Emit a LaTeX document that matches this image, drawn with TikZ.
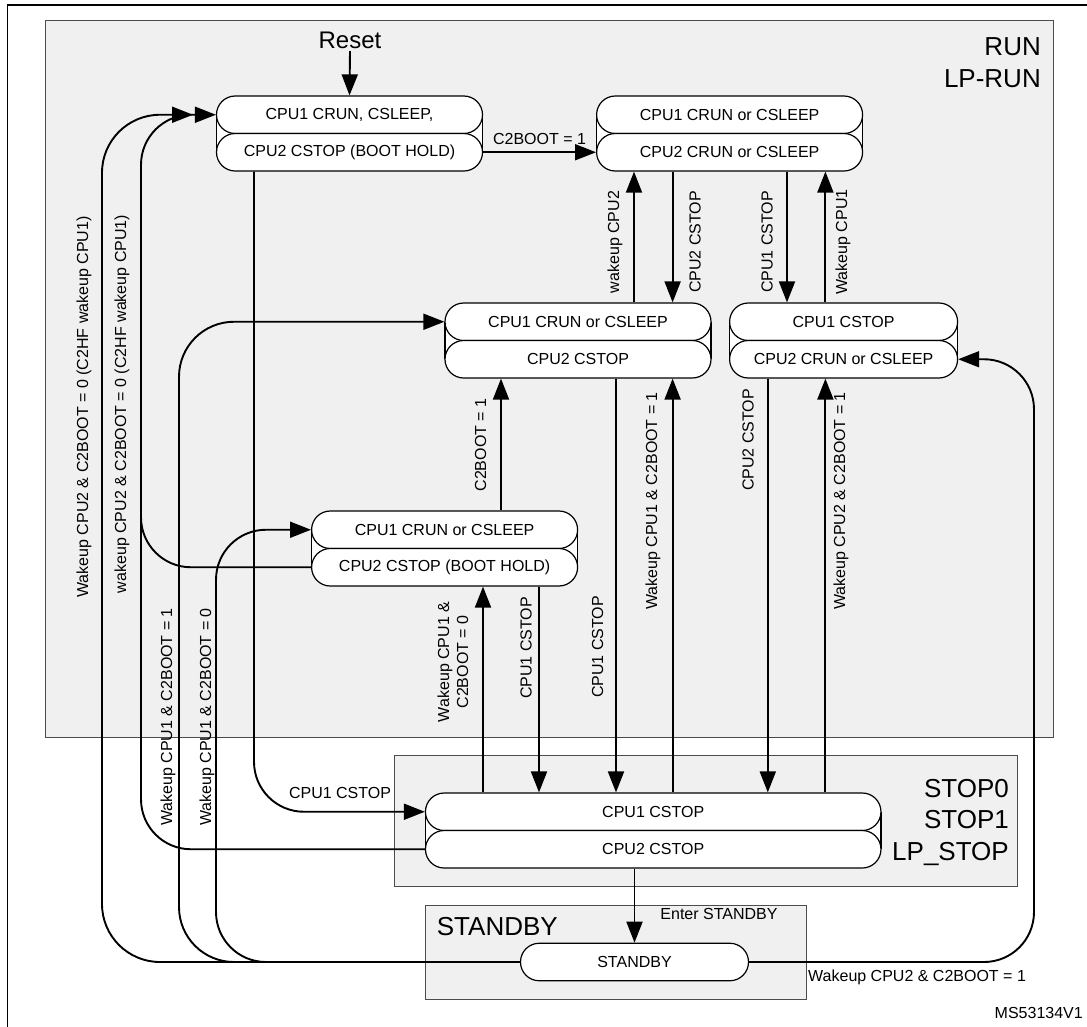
\documentclass[tikz,border=0pt]{standalone}
\usepackage{fontspec}
\setmainfont{Liberation Sans}
\usetikzlibrary{arrows.meta}
\newcommand\fsm{\fontsize{16}{19}\selectfont}
\newcommand\fbg{\fontsize{26}{31}\selectfont}
\newcommand\twostate[6]{%
  \fill[white] ({#2-#4/2},{#3+18.75}) rectangle ({#2+#4/2},{#3+56.25});
  \draw[nodeline] ({#2-#4/2},{#3+18.75}) -- ({#2-#4/2},{#3+56.25});
  \draw[nodeline] ({#2+#4/2},{#3+18.75}) -- ({#2+#4/2},{#3+56.25});
  \node[halfbox, minimum width=#4] (#11) at (#2,{#3+18.75}) {#5};
  \node[halfbox, minimum width=#4] (#12) at (#2,{#3+56.25}) {#6};
}
\begin{document}
\begin{tikzpicture}[x=1pt,y=-1pt,
  nodeline/.style={line width=1.2pt},
  halfbox/.style={draw, line width=1.2pt, fill=white, rounded corners=18.7pt,
    minimum height=37.5pt, inner sep=0pt, font=\fsm},
  conn/.style={line width=1.9pt, -{Triangle[length=21pt,width=16pt]}},
  plain/.style={line width=1.9pt},
  lbl/.style={font=\fsm, inner sep=0pt},
  vlbl/.style={font=\fsm, inner sep=0pt, rotate=90},
  big/.style={font=\fbg, inner sep=0pt},
  region/.style={draw=black!70, line width=1pt, fill=black!6}]
\useasboundingbox (0,0) rectangle (1087,1026);
% frame and regions
\draw[line width=1.5pt] (1090,5) -- (7.5,5) -- (7.5,1030);
\draw[region] (45.6,20.7) rectangle (1053,737);
\draw[region] (394.6,755) rectangle (1017,886.7);
\draw[region] (425.7,905.7) rectangle (806,999);
% region titles
\node[big, anchor=base east] (tRUN) at (1041,55) {RUN};
\node[big, anchor=base east] (tLPRUN) at (1041,87) {LP-RUN};
\node[big, anchor=base east] (tSTOP0) at (1009,797) {STOP0};
\node[big, anchor=base east] (tSTOP1) at (1009,828) {STOP1};
\node[big, anchor=base east] (tLPSTOP) at (1009,860) {LP\_STOP};
\node[big, anchor=base west] (tSTBY) at (436.7,935) {STANDBY};
% states
\twostate{A}{349.5}{96}{266}{CPU1 CRUN, CSLEEP,}{CPU2 CSTOP (BOOT HOLD)}
\twostate{B}{729.6}{96}{266}{CPU1 CRUN or CSLEEP}{CPU2 CRUN or CSLEEP}
\twostate{C}{578}{303}{266}{CPU1 CRUN or CSLEEP}{CPU2 CSTOP}
\twostate{E}{843.6}{303}{228}{CPU1 CSTOP}{CPU2 CRUN or CSLEEP}
\twostate{D}{444.6}{511}{266}{CPU1 CRUN or CSLEEP}{CPU2 CSTOP (BOOT HOLD)}
\twostate{F}{653.2}{793}{455.5}{CPU1 CSTOP}{CPU2 CSTOP}
\node[halfbox, minimum width=228] (G) at (634.5,962) {STANDBY};
% reset
\node[font=\fontsize{24}{28}\selectfont, anchor=base, inner sep=0pt] (reset) at (350,48) {Reset};
\draw[conn] (reset.south |- 0,51) -- (A1.north);
% top transitions
\draw[conn] (A2.east) -- (B2.west) node[lbl, midway, above=7pt] {C2BOOT = 1};
\draw[conn] (634,0 |- C1.north) -- (634,0 |- B2.south);
\draw[conn] (672.6,0 |- B2.south) -- (672.6,0 |- C1.north);
\draw[conn] (787,0 |- B2.south) -- (787,0 |- E1.north);
\draw[conn] (825.4,0 |- E1.north) -- (825.4,0 |- B2.south);
\node[vlbl] (l1) at (615,242) {wakeup CPU2};
\node[vlbl] (l2) at (695,242) {CPU2 CSTOP};
\node[vlbl] (l3) at (767,242) {CPU1 CSTOP};
\node[vlbl] (l4) at (843,242) {Wakeup CPU1};
% middle transitions
\draw[conn] (501,0 |- D1.north) -- (501,0 |- C2.south);
\node[vlbl] (l5) at (480.5,445) {C2BOOT = 1};
\draw[conn] (616,0 |- C2.south) -- (616,0 |- F1.north);
\node[vlbl] (l6) at (597.6,647) {CPU1 CSTOP};
\draw[conn] (672.6,0 |- F1.north) -- (672.6,0 |- C2.south);
\node[vlbl] (l7) at (653,501) {Wakeup CPU1 \& C2BOOT = 1};
\draw[conn] (767.8,0 |- E2.south) -- (767.8,0 |- F1.north);
\node[vlbl] (l8) at (748,440) {CPU2 CSTOP};
\draw[conn] (825.4,0 |- F1.north) -- (825.4,0 |- E2.south);
\node[vlbl] (l9) at (841,501) {Wakeup CPU2 \& C2BOOT = 1};
\draw[conn] (539,0 |- D2.south) -- (539,0 |- F1.north);
\node[vlbl] (l10) at (526,648) {CPU1 CSTOP};
\draw[conn] (483,0 |- F1.north) -- (483,0 |- D2.south);
\node[vlbl, align=center] (l11) at (453,662) {Wakeup CPU1 \&\\C2BOOT = 0};
% A -> F
\draw[conn, rounded corners=50pt] (254,0 |- A2.south) -- (254,0 |- F1.west) -- (F1.west);
\node[lbl] (l12) at (340,793) {CPU1 CSTOP};
% wakeups from the left
\coordinate (outerEnd) at (193,0 |- A1.west);
\draw[conn, rounded corners=58pt] (G.west) -- (102,0 |- G.west) -- (102,0 |- A1.west) -- (outerEnd);
\draw[conn, rounded corners=50pt] (F2.west) -- (141,0 |- F2.west) -- (141,0 |- A1.west) -- (A1.west);
\coordinate (joinD) at (141,500);
\draw[plain, rounded corners=50pt] (D2.west) -- (141,0 |- D2.west) -- (joinD);
\draw[conn, rounded corners=55pt] (G.west) -- (179,0 |- G.west) -- (179,0 |- C1.west) -- (C1.west);
\draw[conn, rounded corners=50pt] (G.west) -- (216,0 |- G.west) -- (216,0 |- D1.west) -- (D1.west);
\node[vlbl] (l13) at (84,407) {Wakeup CPU2 \& C2BOOT = 0 (C2HF wakeup CPU1)};
\node[vlbl] (l14) at (122,404) {wakeup CPU2 \& C2BOOT = 0 (C2HF wakeup CPU1)};
\node[vlbl] (l15) at (168,717) {Wakeup CPU1 \& C2BOOT = 1};
\node[vlbl] (l16) at (207,717) {Wakeup CPU1 \& C2BOOT = 0};
% standby
\draw[conn] (G.north |- F2.south) -- (G.north);
\node[lbl] (l17) at (719,914) {Enter STANDBY};
\draw[conn, rounded corners=50pt] (G.east) -- (1034,0 |- G.east) -- (1034,0 |- E2.east) -- (E2.east);
\node[lbl, anchor=west] (l18) at (808,977) {Wakeup CPU2 \& C2BOOT = 1};
\node[lbl, anchor=east] (ms) at (1083,1013) {MS53134V1};
\end{tikzpicture}
\end{document}
